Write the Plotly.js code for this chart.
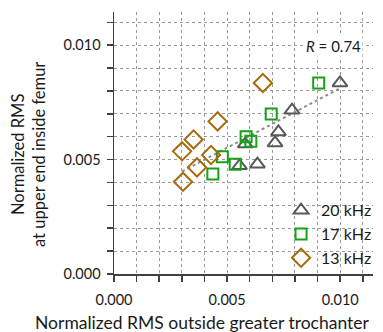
<!DOCTYPE html>
<html><head><meta charset="utf-8">
<script src="https://cdn.plot.ly/plotly-3.0.1.min.js"></script>
<style>html,body{margin:0;padding:0;background:#fff}#c{width:383px;height:332px}</style>
</head><body><div id="c"></div>
<script>
const x20 = [0.00999, 0.00787, 0.00727, 0.00712, 0.00580, 0.00555, 0.00634];
const y20 = [0.00835, 0.00716, 0.00621, 0.00573, 0.00568, 0.00473, 0.00480];
const x17 = [0.00905, 0.00695, 0.00584, 0.00605, 0.00479, 0.00536, 0.00437];
const y17 = [0.00835, 0.00699, 0.00600, 0.00580, 0.00512, 0.00480, 0.00437];
const x13 = [0.00658, 0.00458, 0.00352, 0.00301, 0.00429, 0.00367, 0.00305];
const y13 = [0.00835, 0.00667, 0.00588, 0.00536, 0.00520, 0.00466, 0.00403];
const seriesNames = ['20 kHz', '17 kHz', '13 kHz'];
const xTitle = 'Normalized RMS outside greater trochanter';
const yTitle = 'Normalized RMS<br>at upper end inside femur';

const allX = x20.concat(x17, x13), allY = y20.concat(y17, y13);
const n = allX.length;
const mx = allX.reduce((a,b)=>a+b,0)/n, my = allY.reduce((a,b)=>a+b,0)/n;
let sxy=0, sxx=0;
for (let i=0;i<n;i++){ sxy+=(allX[i]-mx)*(allY[i]-my); sxx+=(allX[i]-mx)**2; }
const slope = sxy/sxx, icpt = my - slope*mx;
const xmin = Math.min(...allX), xmax = Math.max(...allX);
const fitX = [xmin, xmax], fitY = fitX.map(v=>icpt+slope*v);

const F = 'Lato, "Open Sans", sans-serif';
const traces = [
  {x: fitX, y: fitY, mode:'lines', line:{color:'#8c8c8c', width:2, dash:'dot'}, showlegend:false, hoverinfo:'skip'},
  {x: x20, y: y20, name: seriesNames[0], mode:'markers', marker:{symbol:'triangle-up-open', size:13, color:'#595959', line:{width:2, color:'#595959'}}},
  {x: x17, y: y17, name: seriesNames[1], mode:'markers', marker:{symbol:'square-open', size:11, color:'#16a016', line:{width:2, color:'#16a016'}}},
  {x: x13, y: y13, name: seriesNames[2], mode:'markers', marker:{symbol:'diamond-open', size:14, color:'#a86a0c', line:{width:2, color:'#a86a0c'}}}
];
const ax = {
  range:[0, 0.01145], dtick:0.005, tick0:0, tickformat:'.3f',
  showgrid:true, gridcolor:'#9a9a9a', griddash:'dot', gridwidth:1,
  ticks:'outside', ticklen:6, tickwidth:1.5, tickcolor:'#404040',
  showline:true, linecolor:'#404040', linewidth:1.5,
  zeroline:false,
  minor:{dtick:0.001, tick0:0, showgrid:true, gridcolor:'#9a9a9a', griddash:'dot', gridwidth:1, ticks:'outside', ticklen:6, tickwidth:1.5, tickcolor:'#404040'},
  tickfont:{family:F, size:14.5, color:'#1a1a1a'}
};
const layout = {
  width:383, height:332,
  margin:{l:114, r:10, t:12, b:58, autoexpand:false},
  paper_bgcolor:'#fff', plot_bgcolor:'#fff',
  font:{family:F, color:'#1a1a1a'},
  xaxis: Object.assign({}, ax, {ticklabelstandoff:6}),
  yaxis: Object.assign({}, ax, {ticklabelstandoff:3}),
  legend:{x:0.645, y:-0.005, xanchor:'left', yanchor:'bottom', bgcolor:'rgba(255,255,255,0)', font:{family:F, size:16, color:'#1a1a1a'}, itemwidth:30},
  showlegend:true,
  annotations:[
    {xref:'paper', yref:'paper', x:0.96, y:0.87, xanchor:'right', yanchor:'middle', text:'<i>R</i> = 0.74', showarrow:false, font:{family:F, size:15, color:'#1a1a1a'}, bgcolor:'#fff'},
    {xref:'paper', yref:'paper', x:(202-114)/259, y:(274-322)/262, xanchor:'center', yanchor:'middle', text:xTitle, showarrow:false, font:{family:F, size:17.5, color:'#1a1a1a'}},
    {xref:'paper', yref:'paper', x:(28-114)/259, y:(274-155)/262, xanchor:'center', yanchor:'middle', textangle:-90, text:yTitle, showarrow:false, font:{family:F, size:16.5, color:'#1a1a1a'}}
  ]
};
Plotly.newPlot('c', traces, layout, {staticPlot:true, displayModeBar:false});
</script></body></html>
